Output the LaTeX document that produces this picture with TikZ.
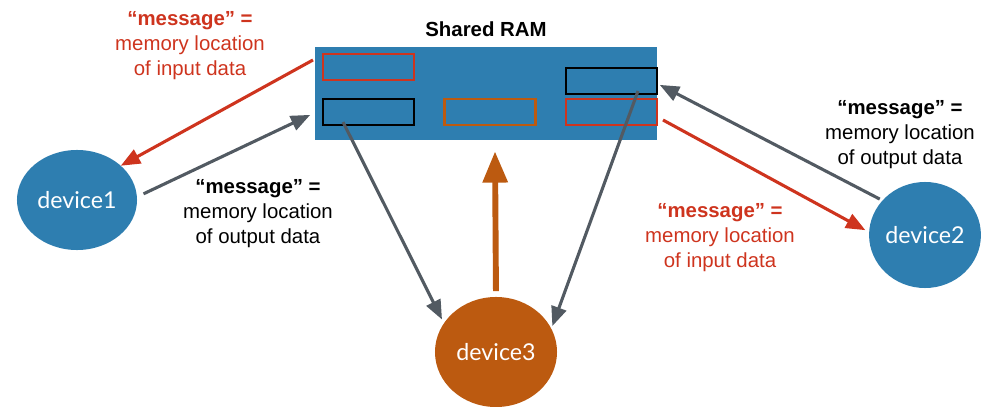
\documentclass[tikz,border=0pt]{standalone}
\usepackage{fontspec}
\setmainfont{Liberation Sans}
\newfontfamily\devfont{Lato}
\usepackage{tikz}
\usetikzlibrary{arrows,shapes.geometric}
\usepackage{xcolor}
\definecolor{ramblue}{RGB}{46,126,176}
\definecolor{msgred}{RGB}{206,52,30}
\definecolor{devorange}{RGB}{188,90,16}
\definecolor{arrowgray}{RGB}{82,90,98}

\begin{document}
\begin{tikzpicture}[x=0.025cm,y=-0.025cm]

\tikzset{device/.style = {shape=ellipse,fill=ramblue,text=white,inner sep=0pt,font=\devfont\fontsize{16.5}{18}\selectfont}}
\tikzset{ram/.style = {shape=rectangle,fill=ramblue,minimum width=8.55cm,minimum height=2.325cm}}
\tikzset{slot/.style = {shape=rectangle,draw,line width=1.8pt,minimum width=2.275cm,minimum height=0.65cm}}
\tikzset{msg/.style = {align=center,font=\fontsize{14.5}{17.8}\selectfont}}
\tikzset{edge/.style = {line width=2.2pt,-triangle 45}}
\useasboundingbox (0,0) rectangle (981,407);

\node[ram] (ram) at (486,93.5) {};
\node[font=\bfseries\fontsize{14.5}{17}\selectfont] (title) at (486,29) {Shared RAM};
\node[slot,draw=msgred] (inA) at (368.5,67) {};
\node[slot,draw=black] (outA) at (368.5,112) {};
\node[slot,draw=devorange] (outC) at (490,112) {};
\node[slot,draw=black] (outB) at (611.5,81) {};
\node[slot,draw=msgred] (inB) at (611.5,112) {};

\node[device,minimum width=3cm,minimum height=2.5cm] (dev1) at (77,200) {device1};
\node[device,minimum width=2.75cm,minimum height=2.65cm] (dev2) at (925,235) {device2};
\node[device,fill=devorange,minimum width=3.05cm,minimum height=2.75cm] (dev3) at (496,352) {device3};

%labels
\node[msg,text=msgred] (lblA) at (190,46) {\textbf{“message” =}\\memory location\\of input data};
\node[msg] (lblB) at (258,214) {\textbf{“message” =}\\memory location\\of output data};
\node[msg] (lblC) at (900,135) {\textbf{“message” =}\\memory location\\of output data};
\node[msg,text=msgred] (lblD) at (720,238) {\textbf{“message” =}\\memory location\\of input data};

%end points on the RAM
\coordinate (r1) at (313,60);
\coordinate (r2) at (310,115);
\coordinate (r3) at (343,122);
\coordinate (r4) at (638,91);
\coordinate (r5) at (660,85);
\coordinate (r6) at (663,120);
\coordinate (r7) at (495,152);

%edges
\draw[edge,draw=msgred] (r1) to (dev1.38);
\draw[edge,draw=arrowgray,shorten <=5pt] (dev1.3) to (r2);
\draw[edge,draw=arrowgray,shorten >=3pt] (r3) to (dev3.151);
\draw[edge,draw=arrowgray,shorten >=2pt] (r4) to (dev3.23);
\draw[edge,draw=devorange,line width=4.2pt,shorten <=4pt] (dev3.north) to (r7);
\draw[edge,draw=arrowgray,shorten <=2pt] (dev2.141) to (r5);
\draw[edge,draw=msgred,shorten >=3pt] (r6) to (dev2.177);
\end{tikzpicture}
\end{document}
